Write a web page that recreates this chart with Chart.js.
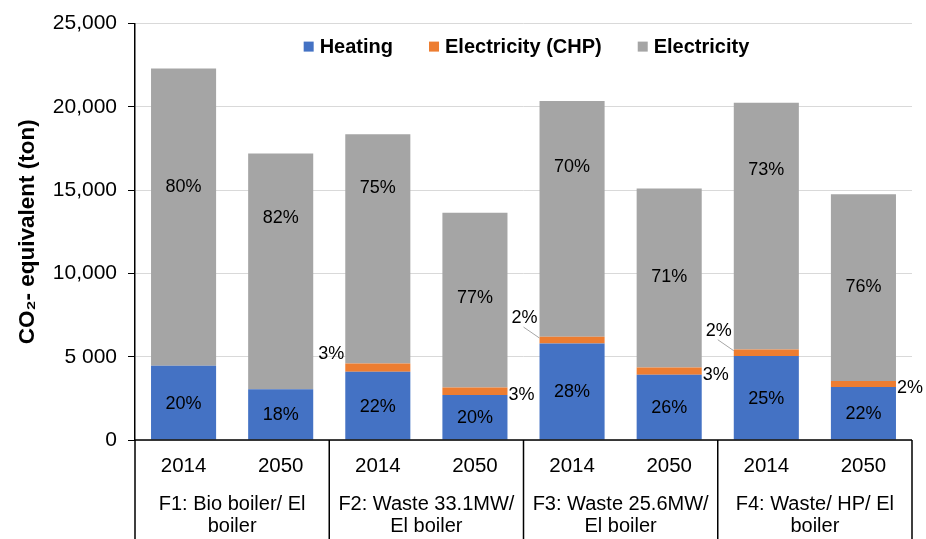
<!DOCTYPE html>
<html>
<head>
<meta charset="utf-8">
<script src="https://cdn.jsdelivr.net/npm/chart.js@4"></script>
<style>
  body { margin: 0; background: #fff; }
  #chart { display: block; }
</style>
</head>
<body>
<canvas id="chart" width="926" height="539"></canvas>
<script>
// categories
const years = ['2014', '2050', '2014', '2050', '2014', '2050', '2014', '2050'];
const groups = [
  ['F1: Bio boiler/ El', 'boiler'],
  ['F2: Waste 33.1MW/', 'El boiler'],
  ['F3: Waste 25.6MW/', 'El boiler'],
  ['F4: Waste/ HP/ El', 'boiler']
];

// CO2 equivalent (ton)
const heating = [4460, 3050, 4100, 2700, 5800, 3920, 5050, 3180];
const chp = [0, 0, 500, 450, 400, 440, 380, 360];
const electricity = [17840, 14150, 13750, 10500, 14150, 10740, 14820, 11210];

// shares shown on the bars
const heatPct = ['20%', '18%', '22%', '20%', '28%', '26%', '25%', '22%'];
const chpPct = ['', '', '3%', '3%', '2%', '3%', '2%', '2%'];
const elecPct = ['80%', '82%', '75%', '77%', '70%', '71%', '73%', '76%'];

const yTicks = [0, 5000, 10000, 15000, 20000, 25000];

// label placement (style only)
const elecShift = [-30, -53, -61, -2, -52, -1, -56, -1];
const chpPlace = ['', '', 'left', 'right', 'leader', 'right', 'leader', 'right'];

const FONT = "'Liberation Sans', Arial, sans-serif";

// legend drawn inside the plot, near the top
const innerLegend = {
  id: 'innerLegend',
  afterDraw(chart) {
    const ctx = chart.ctx;
    const area = chart.chartArea;
    const sets = chart.data.datasets;
    ctx.save();
    ctx.font = 'bold 20px ' + FONT;
    ctx.textBaseline = 'middle';
    ctx.textAlign = 'left';
    const box = 10, gap = 6, between = 36;
    const widths = sets.map(d => box + gap + ctx.measureText(d.label).width);
    const total = widths.reduce((a, b) => a + b, 0) + between * (sets.length - 1);
    let x = (area.left + area.right) / 2 - total / 2 + 3;
    const y = area.top + 23;
    sets.forEach((d, i) => {
      ctx.fillStyle = d.backgroundColor;
      ctx.fillRect(x, y - box / 2, box, box);
      ctx.fillStyle = '#000';
      ctx.fillText(d.label, x + box + gap, y + 1);
      x += widths[i] + between;
    });
    ctx.restore();
  }
};

const barLabels = {
  id: 'barLabels',
  afterDatasetsDraw(chart) {
    const ctx = chart.ctx;
    ctx.save();
    ctx.font = '18px ' + FONT;
    ctx.fillStyle = '#000';
    ctx.textBaseline = 'middle';
    ctx.textAlign = 'center';
    const hMeta = chart.getDatasetMeta(0).data;
    const cMeta = chart.getDatasetMeta(1).data;
    const eMeta = chart.getDatasetMeta(2).data;
    hMeta.forEach((b, i) => {
      ctx.fillText(heatPct[i], b.x, (b.y + b.base) / 2 + 1);
    });
    eMeta.forEach((b, i) => {
      ctx.fillText(elecPct[i], b.x, (b.y + b.base) / 2 + elecShift[i]);
    });
    cMeta.forEach((b, i) => {
      if (!chpPct[i]) return;
      const half = b.width / 2;
      const mid = (b.y + b.base) / 2;
      if (chpPlace[i] === 'right') {
        ctx.textAlign = 'left';
        ctx.fillText(chpPct[i], b.x + half + 1, mid + 4);
      } else if (chpPlace[i] === 'left') {
        ctx.textAlign = 'right';
        ctx.fillText(chpPct[i], b.x - half - 1, mid - 14);
      } else {
        ctx.textAlign = 'right';
        ctx.fillText(chpPct[i], b.x - half - 2, mid - 22);
        ctx.strokeStyle = '#a6a6a6';
        ctx.lineWidth = 1;
        ctx.beginPath();
        ctx.moveTo(b.x - half - 16, mid - 13);
        ctx.lineTo(b.x - half, mid - 2);
        ctx.stroke();
      }
      ctx.textAlign = 'center';
    });

    // axis line and group separators
    const x = chart.scales.x;
    const area = chart.chartArea;
    const h = chart.height;
    ctx.strokeStyle = '#000';
    ctx.lineWidth = 1.5;
    ctx.beginPath();
    ctx.moveTo(area.left, area.bottom);
    ctx.lineTo(area.right, area.bottom);
    const seps = [area.left];
    for (let i = 2; i < years.length; i += 2) {
      seps.push((x.getPixelForValue(i - 1) + x.getPixelForValue(i)) / 2);
    }
    seps.push(area.right);
    seps.forEach(px => {
      ctx.moveTo(px, area.bottom);
      ctx.lineTo(px, h);
    });
    ctx.stroke();
    ctx.restore();
  }
};

new Chart(document.getElementById('chart'), {
  type: 'bar',
  data: {
    labels: years,
    datasets: [
      { label: 'Heating', data: heating, backgroundColor: '#4472C4', xAxisID: 'x' },
      { label: 'Electricity (CHP)', data: chp, backgroundColor: '#ED7D31', xAxisID: 'x' },
      { label: 'Electricity', data: electricity, backgroundColor: '#A5A5A5', xAxisID: 'x' }
    ]
  },
  options: {
    responsive: false,
    animation: false,
    maintainAspectRatio: false,
    barPercentage: 0.67,
    categoryPercentage: 1,
    layout: { padding: { top: 12, right: 14, left: 0, bottom: 0 } },
    plugins: {
      tooltip: { enabled: false },
      legend: { display: false }
    },
    scales: {
      x: {
        stacked: true,
        grid: { display: false },
        border: { display: false },
        ticks: { color: '#000', padding: 6, font: { family: FONT, size: 20.5 } },
        afterFit(scale) { scale.height = 40; }
      },
      group: {
        type: 'category',
        labels: groups,
        position: 'bottom',
        offset: true,
        grid: { display: false },
        border: { display: false },
        ticks: { color: '#000', padding: 5, font: { family: FONT, size: 20, lineHeight: 1.1 } },
        afterFit(scale) { scale.height = 59; }
      },
      y: {
        stacked: true,
        min: 0,
        max: 25000,
        afterBuildTicks(scale) { scale.ticks = yTicks.map(v => ({ value: v })); },
        grid: { color: '#d9d9d9', tickColor: '#000', tickLength: 7, lineWidth: 1 },
        border: { color: '#000', width: 1.5 },
        ticks: {
          color: '#000',
          padding: 11,
          font: { family: FONT, size: 21 },
          callback: v => v === 5000 ? '5 000' : v.toLocaleString('en-US')
        },
        title: {
          display: true,
          text: 'CO\u2082- equivalent (ton)',
          color: '#000',
          padding: { top: 14, bottom: 0 },
          font: { family: FONT, size: 22.5, weight: 'bold' }
        },
        afterFit(scale) { scale.width = 135; }
      }
    }
  },
  plugins: [barLabels, innerLegend]
});
</script>
</body>
</html>
